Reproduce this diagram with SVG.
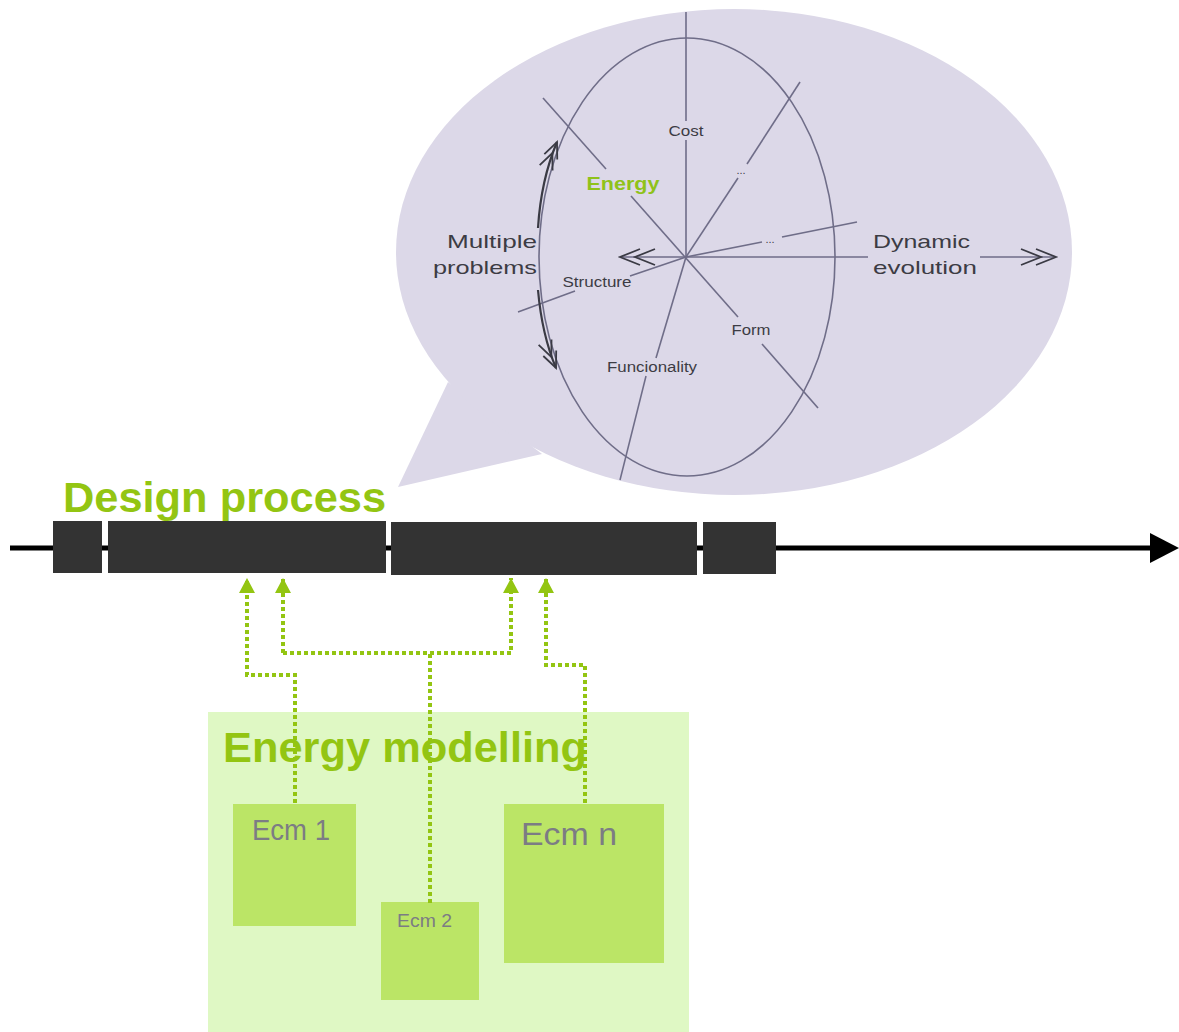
<svg xmlns="http://www.w3.org/2000/svg" width="1179" height="1032" viewBox="0 0 1179 1032">
  <style>
    .axis { fill: none; stroke: #6f6d88; stroke-width: 1.6; }
    .curve { fill: none; stroke: #3a3a44; stroke-width: 2.2; }
    .lbl { font-family: "Liberation Sans", Arial, sans-serif; fill: #3c3c44; }
    .big { font-family: "Liberation Sans", Arial, sans-serif; font-weight: bold; fill: #93c512; }
    .ecm { fill: #bbe566; }
    .ecmtxt { font-family: "Liberation Sans", Arial, sans-serif; fill: #7c7c84; }
    .dot { fill: none; stroke: #93c512; stroke-width: 4; stroke-dasharray: 4 3; }
    .bar { fill: #333333; }
  </style>
  <defs>
    <marker id="dbl" markerUnits="userSpaceOnUse" viewBox="-40 -11 44 22" refX="0" refY="0" markerWidth="44" markerHeight="22" orient="auto-start-reverse">
      <path d="M-20,-8 L0,0 L-20,8 M-35,-8 L-15,0 L-35,8" fill="none" stroke="#3a3a44" stroke-width="1.8"/>
    </marker>
    <marker id="dblc" markerUnits="userSpaceOnUse" viewBox="-40 -11 44 22" refX="0" refY="0" markerWidth="44" markerHeight="22" orient="auto-start-reverse">
      <path d="M-16,-7 L0,0 L-16,7 M-28,-7 L-12,0 L-28,7" fill="none" stroke="#3a3a44" stroke-width="1.8"/>
    </marker>
    <marker id="tri" markerUnits="userSpaceOnUse" viewBox="-16 -9 17 18" refX="0" refY="0" markerWidth="17" markerHeight="18" orient="auto">
      <path d="M0,0 L-15,-8 L-15,8 z" fill="#93c512"/>
    </marker>
  </defs>

  <rect width="1179" height="1032" fill="#ffffff"/>

  <!-- speech bubble -->
  <g id="bubble">
    <path d="M448,382 L398,487 L542,454 Z" fill="#dcd8e8"/>
    <ellipse cx="734" cy="252" rx="338" ry="243" fill="#dcd8e8"/>
  </g>

  <!-- problem space inside the bubble -->
  <g id="problem-space">
    <ellipse class="axis" cx="687" cy="257" rx="148" ry="219"/>
    <!-- Cost axis -->
    <line class="axis" x1="686" y1="12" x2="686" y2="121"/>
    <line class="axis" x1="686" y1="140" x2="686" y2="257"/>
    <!-- Energy / Form axis -->
    <line class="axis" x1="543" y1="98" x2="606" y2="169"/>
    <line class="axis" x1="631" y1="196" x2="738" y2="317"/>
    <line class="axis" x1="762" y1="344" x2="818" y2="408"/>
    <!-- upper "..." axis -->
    <line class="axis" x1="800" y1="82" x2="747" y2="164"/>
    <line class="axis" x1="738" y1="178" x2="686" y2="257"/>
    <!-- Funcionality axis -->
    <line class="axis" x1="686" y1="257" x2="656" y2="358"/>
    <line class="axis" x1="646" y1="376" x2="620" y2="480"/>
    <!-- right "..." axis -->
    <line class="axis" x1="857" y1="222" x2="782" y2="237"/>
    <line class="axis" x1="762" y1="242" x2="686" y2="257"/>
    <!-- Structure axis -->
    <line class="axis" x1="686" y1="257" x2="630" y2="276"/>
    <line class="axis" x1="575" y1="291" x2="518" y2="312"/>
    <!-- time axis -->
    <line class="axis" x1="686" y1="257" x2="620" y2="257" stroke="#3a3a44" marker-end="url(#dbl)"/>
    <line class="axis" x1="686" y1="257" x2="868" y2="257"/>
    <line class="axis" x1="980" y1="257" x2="1056" y2="257" marker-end="url(#dbl)"/>
    <!-- multiple problems arrows -->
    <path class="curve" d="M538,228 Q541,180 557,142" marker-end="url(#dblc)"/>
    <path class="curve" d="M538,290 Q542,335 556,368" marker-end="url(#dblc)"/>

    <text class="lbl" x="686" y="136" font-size="14" text-anchor="middle" textLength="35" lengthAdjust="spacingAndGlyphs">Cost</text>
    <text x="623" y="190" font-family="Liberation Sans, Arial, sans-serif" font-weight="bold" font-size="19" fill="#8fc21a" text-anchor="middle" textLength="73" lengthAdjust="spacingAndGlyphs">Energy</text>
    <text class="lbl" x="741" y="174" font-size="11" text-anchor="middle">...</text>
    <text class="lbl" x="770" y="243" font-size="11" text-anchor="middle">...</text>
    <text class="lbl" x="597" y="287" font-size="14" text-anchor="middle" textLength="69" lengthAdjust="spacingAndGlyphs">Structure</text>
    <text class="lbl" x="751" y="335" font-size="14" text-anchor="middle" textLength="39" lengthAdjust="spacingAndGlyphs">Form</text>
    <text class="lbl" x="652" y="372" font-size="14" text-anchor="middle" textLength="90" lengthAdjust="spacingAndGlyphs">Funcionality</text>
    <text class="lbl" x="447" y="248" font-size="19" textLength="90" lengthAdjust="spacingAndGlyphs">Multiple</text>
    <text class="lbl" x="433" y="274" font-size="19" textLength="104" lengthAdjust="spacingAndGlyphs">problems</text>
    <text class="lbl" x="873" y="248" font-size="19" textLength="97" lengthAdjust="spacingAndGlyphs">Dynamic</text>
    <text class="lbl" x="873" y="274" font-size="19" textLength="104" lengthAdjust="spacingAndGlyphs">evolution</text>
  </g>

  <!-- design process timeline -->
  <g id="design-process">
    <text class="big" x="63" y="512" font-size="43" textLength="323" lengthAdjust="spacingAndGlyphs">Design process</text>
    <line x1="10" y1="548" x2="1152" y2="548" stroke="#000" stroke-width="5"/>
    <path d="M1150,533 L1179,548 L1150,563 Z" fill="#000"/>
    <rect class="bar" x="53" y="521" width="49" height="52"/>
    <rect class="bar" x="108" y="521" width="278" height="52"/>
    <rect class="bar" x="391" y="522" width="306" height="53"/>
    <rect class="bar" x="703" y="522" width="73" height="52"/>
  </g>

  <!-- energy modelling area -->
  <g id="energy-modelling">
    <rect x="208" y="712" width="481" height="320" fill="#dff8c4"/>
  </g>

  <g id="ecm-1">
    <rect class="ecm" x="233" y="804" width="123" height="122"/>
    <text class="ecmtxt" x="252" y="840" font-size="29" textLength="78" lengthAdjust="spacingAndGlyphs">Ecm 1</text>
  </g>
  <g id="ecm-2">
    <rect class="ecm" x="381" y="902" width="98" height="98"/>
    <text class="ecmtxt" x="397" y="927" font-size="19" textLength="55" lengthAdjust="spacingAndGlyphs">Ecm 2</text>
  </g>
  <g id="ecm-n">
    <rect class="ecm" x="504" y="804" width="160" height="159"/>
    <text class="ecmtxt" x="521" y="845" font-size="32" textLength="96" lengthAdjust="spacingAndGlyphs">Ecm n</text>
  </g>

  <!-- connectors from the models to the design phases -->
  <g id="connectors">
    <path class="dot" d="M295,803 V675 H247 V578" marker-end="url(#tri)"/>
    <path class="dot" d="M430,903 V653"/>
    <path class="dot" d="M283,653 V578" marker-end="url(#tri)"/>
    <path class="dot" d="M283,653 H511 V578" marker-end="url(#tri)"/>
    <path class="dot" d="M585,803 V665 H546 V578" marker-end="url(#tri)"/>
  </g>

  <text class="big" x="223" y="762" font-size="43" textLength="364" lengthAdjust="spacingAndGlyphs">Energy modelling</text>
</svg>
